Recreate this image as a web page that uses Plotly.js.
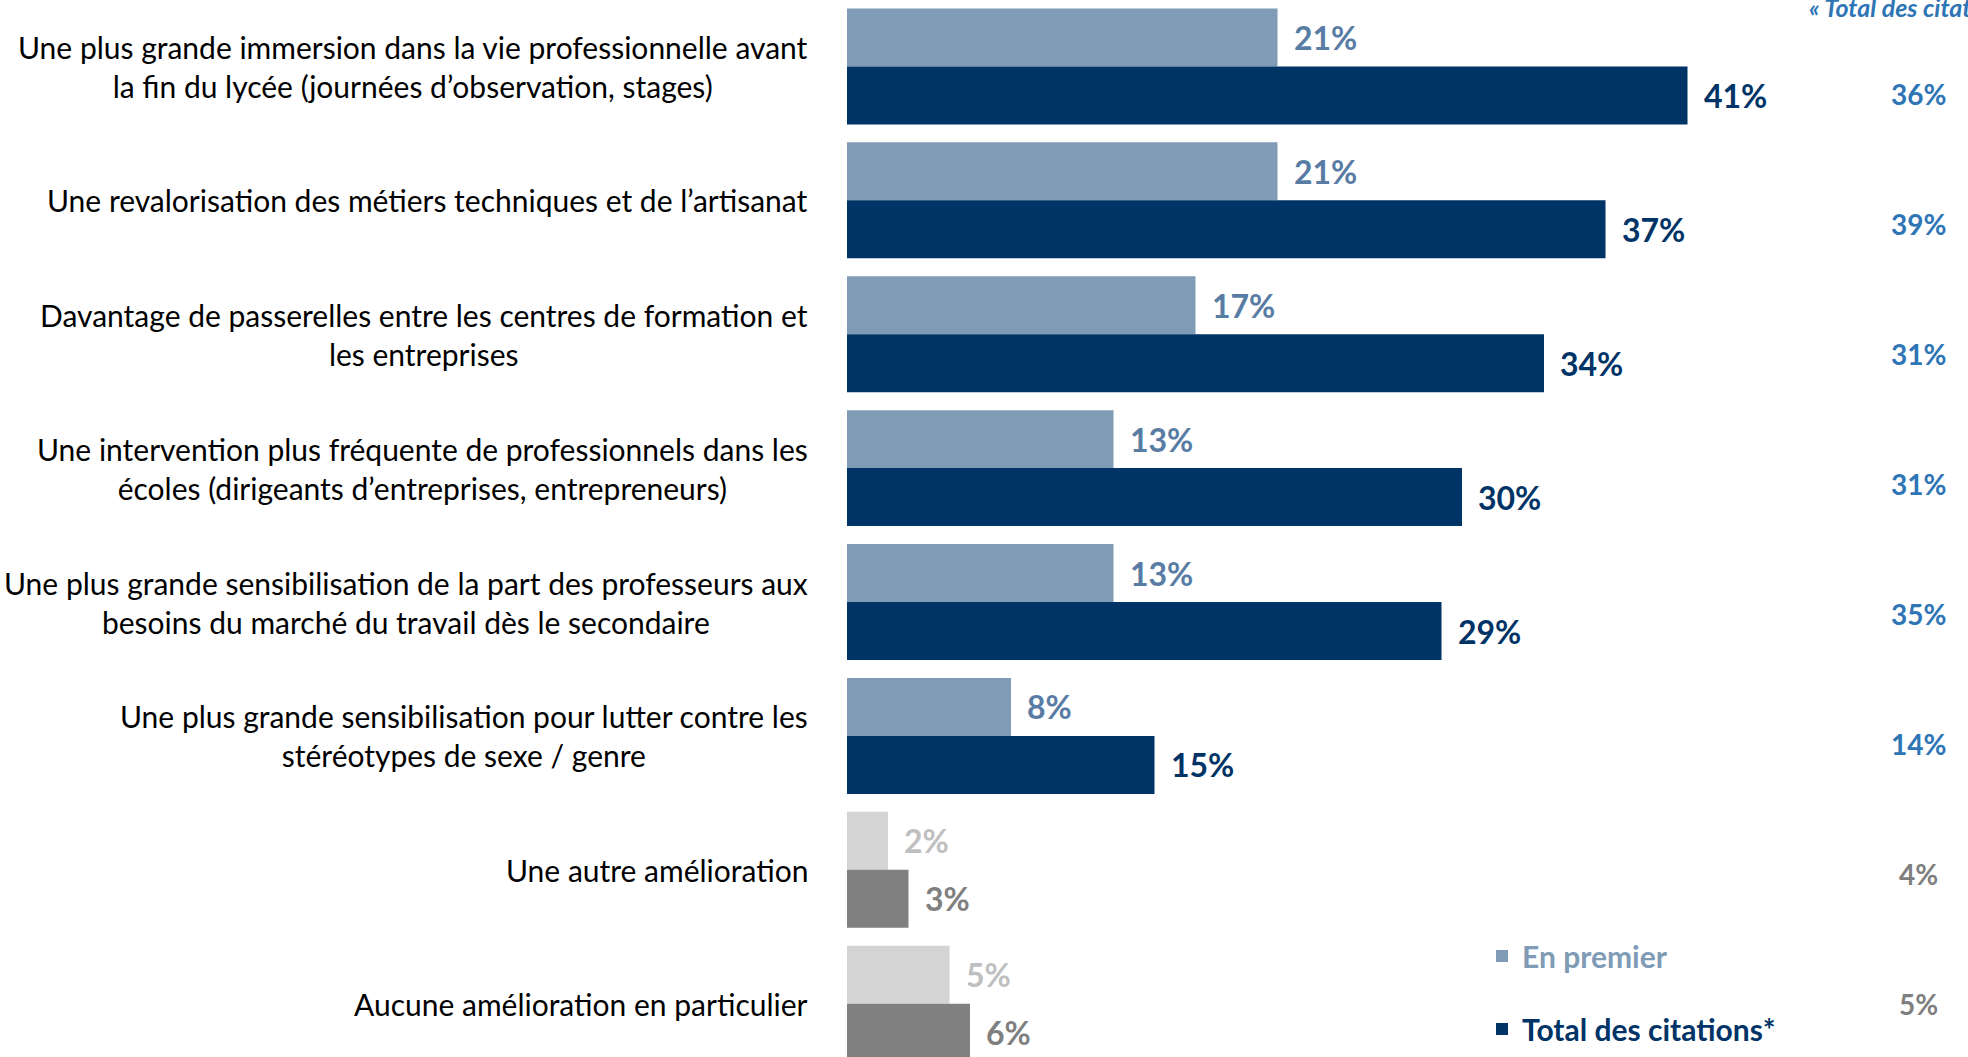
<!DOCTYPE html>
<html><head><meta charset="utf-8">
<script src="https://cdn.plot.ly/plotly-3.0.1.min.js"></script>
<style>html,body{margin:0;padding:0;background:#fff;}#chart{width:1968px;height:1057px;}</style>
</head><body><div id="chart"></div>
<script>
const categories = [
  "Une plus grande immersion dans la vie professionnelle avant<br>la fin du lycée (journées d’observation, stages)",
  "Une revalorisation des métiers techniques et de l’artisanat",
  "Davantage de passerelles entre les centres de formation et<br>les entreprises",
  "Une intervention plus fréquente de professionnels dans les<br>écoles (dirigeants d’entreprises, entrepreneurs)",
  "Une plus grande sensibilisation de la part des professeurs aux<br>besoins du marché du travail dès le secondaire",
  "Une plus grande sensibilisation pour lutter contre les<br>stéréotypes de sexe / genre",
  "Une autre amélioration",
  "Aucune amélioration en particulier"
];
const enPremier = [21, 21, 17, 13, 13, 8, 2, 5];
const totalCitations = [41, 37, 34, 30, 29, 15, 3, 6];
const totalRef = [36, 39, 31, 31, 35, 14, 4, 5];
const isOther = [false, false, false, false, false, false, true, true];
const seriesNames = ["En premier", "Total des citations*"];
const headerText = "« Total des citations »";

const FONT = "Lato, 'Open Sans', sans-serif";
const C = {
  light: "#7F9BB5", dark: "#003366", lightGray: "#D4D4D4", darkGray: "#808080",
  lightTxt: "#587CA3", darkTxt: "#003366", lightGrayTxt: "#BFBFBF", darkGrayTxt: "#7F7F7F",
  refBlue: "#2E75B6", refGray: "#7F7F7F"
};

const traces = [
  {
    type: "bar", orientation: "h", y: categories, x: enPremier,
    name: '<b><span style="color:' + C.light + '">' + seriesNames[0] + '</span></b>',
    legendgroup: "a",
    marker: {color: isOther.map(o => o ? C.lightGray : C.light), line: {width: 0}},
    hoverinfo: "skip"
  },
  {
    type: "bar", orientation: "h", y: categories, x: totalCitations,
    name: '<b><span style="color:' + C.dark + '">' + seriesNames[1] + '</span></b>',
    legendgroup: "b",
    marker: {color: isOther.map(o => o ? C.darkGray : C.dark), line: {width: 0}},
    hoverinfo: "skip"
  }
];

const annotations = [];
categories.forEach((c, i) => {
  annotations.push({
    xref: "paper", yref: "y", x: 0, y: c, xanchor: "right", yanchor: "middle",
    xshift: -37, text: c, showarrow: false, align: "center",
    font: {family: FONT, size: 30, color: "#000"}
  });
  annotations.push({
    xref: "x", yref: "y", x: enPremier[i], y: c, xanchor: "left", yanchor: "middle",
    xshift: 14, yshift: 29, text: "<b>" + enPremier[i] + "%</b>", showarrow: false,
    font: {family: FONT, size: 32, color: isOther[i] ? C.lightGrayTxt : C.lightTxt}
  });
  annotations.push({
    xref: "x", yref: "y", x: totalCitations[i], y: c, xanchor: "left", yanchor: "middle",
    xshift: 14, yshift: -29, text: "<b>" + totalCitations[i] + "%</b>", showarrow: false,
    font: {family: FONT, size: 32, color: isOther[i] ? C.darkGrayTxt : C.darkTxt}
  });
  const ypx = 94 + 130 * i;
  annotations.push({
    xref: "paper", yref: "paper", x: (1918 - 847) / 1121, y: 1 - ypx / 1057,
    xanchor: "center", yanchor: "middle", text: "<b>" + totalRef[i] + "%</b>", showarrow: false,
    font: {family: FONT, size: 28, color: isOther[i] ? C.refGray : C.refBlue}
  });
});
annotations.push({
  xref: "paper", yref: "paper", x: (1807 - 847) / 1121, y: 1, xanchor: "left", yanchor: "middle",
  yshift: -7, text: "<b><i>" + headerText + "</i></b>", showarrow: false,
  font: {family: FONT, size: 25, color: C.refBlue}
});

const layout = {
  width: 1968, height: 1057,
  margin: {l: 847, r: 0, t: 0, b: 0, pad: 0},
  paper_bgcolor: "#fff", plot_bgcolor: "#fff",
  barmode: "group", bargap: 0.134, bargroupgap: 0,
  xaxis: {range: [0, (1968 - 847) / 20.5], visible: false, fixedrange: true},
  yaxis: {type: "category", range: [7.398, -0.496], visible: false, fixedrange: true},
  showlegend: true,
  legend: {
    x: (1482 - 847) / 1121, xanchor: "left", y: 1 - 930 / 1057, yanchor: "top",
    traceorder: "grouped", tracegroupgap: 31,
    font: {family: FONT, size: 30}, bgcolor: "rgba(0,0,0,0)", itemwidth: 30
  },
  annotations: annotations
};

Plotly.newPlot("chart", traces, layout, {displayModeBar: false, staticPlot: true});
</script>
</body></html>
